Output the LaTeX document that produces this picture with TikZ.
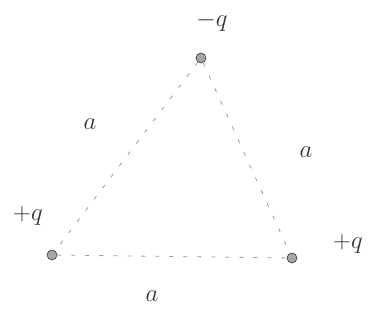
\documentclass[tikz,border=0pt]{standalone}
\begin{document}
\begin{tikzpicture}[x=1pt,y=-1pt,
  charge/.style={circle,fill=gray!70,draw=gray!40!black,line width=0.6pt,minimum size=10pt,inner sep=0pt},
  side/.style={dashed,dash pattern=on 4pt off 10pt,gray!80,line width=0.8pt},
  lbl/.style={font=\fontsize{26}{28}\selectfont\itshape,text=black!80,inner sep=0pt}]
\useasboundingbox (0,0) rectangle (376,320);
\node[charge] (t) at (201,58) {};
\node[charge] (l) at (52,255) {};
\node[charge] (r) at (292,258) {};
\draw[side] (t) -- (l);
\draw[side] (t) -- (r);
\draw[side] (l) -- (r);
\node[lbl] (qt) at (212,22) {$-q$};
\node[lbl] (ql) at (28,216) {$+q$};
\node[lbl] (qr) at (348,244) {$+q$};
\node[lbl] (al) at (90,124) {$a$};
\node[lbl] (ar) at (306,152) {$a$};
\node[lbl] (ab) at (152,296) {$a$};
\end{tikzpicture}
\end{document}
